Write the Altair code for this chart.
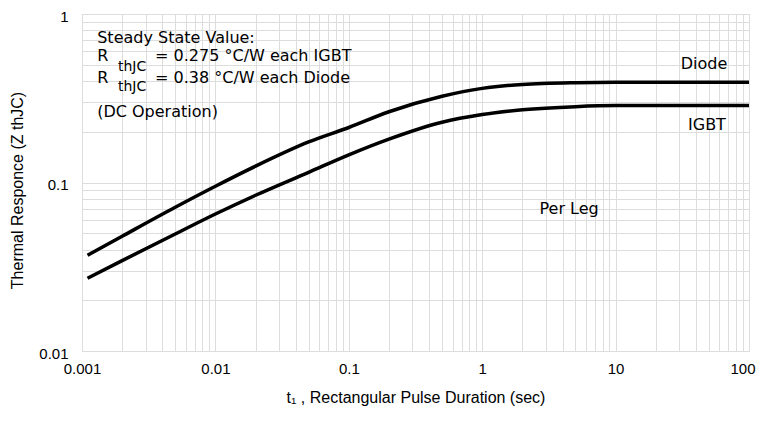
import altair as alt
import pandas as pd

# ---- data ----
t_vals = [0.0011, 0.002, 0.005, 0.01, 0.02, 0.05, 0.1, 0.2, 0.5, 1, 2, 5, 10, 100]
diode_z = [0.037, 0.048, 0.0713, 0.095, 0.125, 0.174, 0.212, 0.263, 0.325, 0.362, 0.382, 0.391, 0.393, 0.393]
igbt_z = [0.027, 0.0344, 0.0495, 0.065, 0.084, 0.115, 0.146, 0.181, 0.228, 0.253, 0.27, 0.282, 0.286, 0.286]

x_decades = [0.001, 0.01, 0.1, 1, 10, 100]
y_decades = [0.01, 0.1, 1]

ann_text = ["Steady State Value:", "R", "= 0.275 °C/W each IGBT", "R", "= 0.38 °C/W each Diode",
            "(DC Operation)", "Diode", "IGBT", "Per Leg"]
ann_t = [0.0013, 0.0013, 0.00353, 0.0013, 0.00353, 0.0013, 46, 48.4, 4.48]
ann_z = [0.72, 0.564, 0.564, 0.418, 0.418, 0.263, 0.506, 0.22, 0.070]
ann_align = ["left", "left", "left", "left", "left", "left", "center", "center", "center"]

sub_text = ["thJC", "thJC"]
sub_t = [0.00186, 0.00186]
sub_z = [0.486, 0.37]

FONT = "DejaVu Sans"

# grid positions (1..9 x each decade)
x_grid = [m * d for d in [0.001, 0.01, 0.1, 1, 10] for m in range(1, 10)] + [100]
y_grid = [m * d for d in [0.01, 0.1] for m in range(1, 10)] + [1]

curves = pd.DataFrame({
    "t": t_vals * 2,
    "z": diode_z + igbt_z,
    "series": ["Diode"] * len(t_vals) + ["IGBT"] * len(t_vals),
})
ann = pd.DataFrame({"t": ann_t, "z": ann_z, "text": ann_text, "align": ann_align})
subs = pd.DataFrame({"t": sub_t, "z": sub_z, "text": sub_text})

label_expr = ("abs(log(datum.value)/LN10 - round(log(datum.value)/LN10)) < 1e-6 ? "
              "format(datum.value, '~g') : ''")

xscale = alt.Scale(type="log", domain=[0.001, 100], nice=False)
yscale = alt.Scale(type="log", domain=[0.01, 1], nice=False)

xaxis = alt.Axis(values=x_grid, labelExpr=label_expr, labelOverlap=False, labelFlush=False,
                 labelAlign={"condition": {"test": "datum.value >= 99", "value": "right"}, "value": "center"},
                 labelOffset={"condition": {"test": "datum.value >= 99", "value": 6}, "value": 0},
                 ticks=False, domain=False, labelPadding=10, labelFontSize=15,
                 title="t\u2081 , Rectangular Pulse Duration (sec)", titleFontSize=16,
                 titlePadding=13, titleFontWeight="normal")
yaxis = alt.Axis(values=y_grid, labelExpr=label_expr, labelOverlap=False, labelFlush=False,
                 ticks=False, domain=False, labelPadding=14, labelFontSize=15, labelOffset=2,
                 title="Thermal Responce (Z  thJC)", titleFontSize=16, titleFontWeight="normal",
                 titleX=-57, titleY=176)

lines = alt.Chart(curves).mark_line(color="black", strokeWidth=3.5, interpolate="monotone").encode(
    x=alt.X("t:Q", scale=xscale, axis=xaxis),
    y=alt.Y("z:Q", scale=yscale, axis=yaxis),
    detail="series:N",
)

left_ann = alt.Chart(ann[ann["align"] == "left"]).mark_text(
    align="left", baseline="middle", fontSize=16, font=FONT, color="black"
).encode(x=alt.X("t:Q", scale=xscale), y=alt.Y("z:Q", scale=yscale), text="text:N")

center_ann = alt.Chart(ann[ann["align"] == "center"]).mark_text(
    align="center", baseline="middle", fontSize=16, font=FONT, color="black"
).encode(x=alt.X("t:Q", scale=xscale), y=alt.Y("z:Q", scale=yscale), text="text:N")

sub_ann = alt.Chart(subs).mark_text(
    align="left", baseline="middle", fontSize=14, font=FONT, color="black"
).encode(x=alt.X("t:Q", scale=xscale), y=alt.Y("z:Q", scale=yscale), text="text:N")

chart = alt.layer(lines, left_ann, center_ann, sub_ann).properties(
    width=667, height=337,
    autosize=alt.AutoSizeParams(type="none"),
    padding={"left": 74, "top": 6, "right": 7, "bottom": 62},
).configure_view(
    stroke="black", strokeWidth=1.5
).configure_axis(
    grid=True, gridColor="#111111", gridOpacity=0.9, gridWidth=1, gridDash=[12, 3],
    labelFont=FONT, titleFont=FONT, labelColor="black", titleColor="black",
).configure(background="white")

chart.save("out.html", embed_options={"renderer": "svg", "actions": False})
